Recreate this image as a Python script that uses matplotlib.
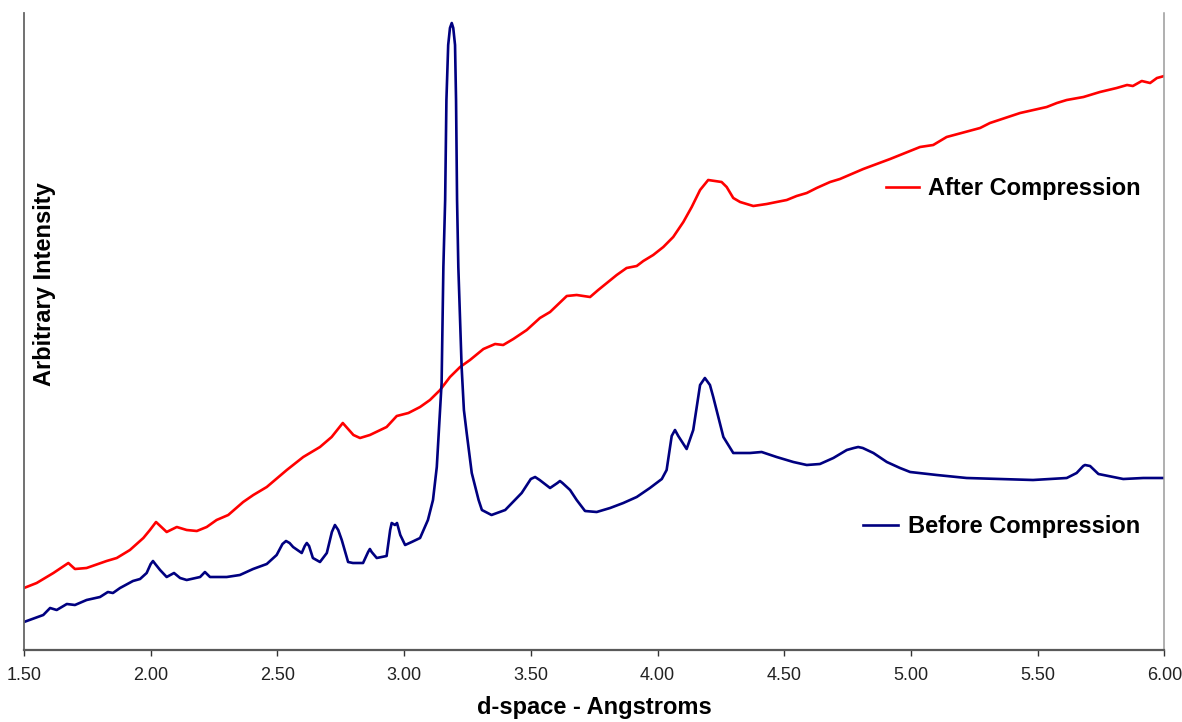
import matplotlib
matplotlib.use("Agg")
import matplotlib.pyplot as plt

plt.rcParams['font.family'] = ['Liberation Sans', 'DejaVu Sans']

# d-spacing (Angstroms) and arbitrary intensity, before compression
d_before = [1.500, 1.576, 1.603, 1.629, 1.669, 1.701, 1.747, 1.800, 1.831, 1.851,
            1.879, 1.930, 1.958, 1.984, 2.000, 2.009, 2.018, 2.037, 2.063, 2.092,
            2.116, 2.142, 2.195, 2.214, 2.234, 2.300, 2.352, 2.404, 2.458, 2.497,
            2.520, 2.534, 2.548, 2.562, 2.596, 2.608, 2.616, 2.625, 2.640, 2.668,
            2.695, 2.715, 2.727, 2.740, 2.754, 2.779, 2.798, 2.838, 2.858, 2.865,
            2.872, 2.892, 2.931, 2.945, 2.951, 2.964, 2.972, 2.985, 3.004, 3.030,
            3.063, 3.094, 3.114, 3.129, 3.148, 3.155, 3.162, 3.167, 3.174, 3.181,
            3.188, 3.194, 3.201, 3.205, 3.209, 3.214, 3.221, 3.227, 3.236, 3.247,
            3.267, 3.294, 3.307, 3.345, 3.399, 3.464, 3.500, 3.517, 3.535, 3.576,
            3.605, 3.615, 3.625, 3.655, 3.681, 3.714, 3.760, 3.813, 3.865, 3.918,
            3.970, 4.017, 4.036, 4.056, 4.069, 4.082, 4.115, 4.141, 4.168, 4.187,
            4.207, 4.220, 4.260, 4.299, 4.365, 4.411, 4.470, 4.536, 4.589, 4.641,
            4.694, 4.747, 4.775, 4.792, 4.810, 4.852, 4.905, 4.957, 4.997, 5.102,
            5.220, 5.352, 5.482, 5.615, 5.654, 5.680, 5.687, 5.707, 5.740, 5.838,
            5.917, 6.000]
i_before = [28, 35, 42, 40, 46, 45, 50, 53, 58, 57,
            62, 69, 71, 77, 86, 89, 86, 80, 73, 77,
            72, 70, 73, 78, 73, 73, 75, 81, 86, 95,
            106, 109, 107, 103, 97, 104, 107, 104, 92, 88,
            97, 118, 125, 120, 110, 88, 87, 87, 98, 101,
            98, 92, 94, 120, 127, 125, 127, 115, 105, 108,
            112, 130, 150, 183, 267, 383, 450, 550, 605, 622,
            627, 622, 605, 550, 450, 383, 330, 283, 240, 217,
            177, 150, 140, 135, 140, 157, 171, 173, 170, 162,
            167, 169, 167, 160, 150, 139, 138, 142, 147, 153,
            162, 171, 180, 214, 220, 214, 201, 220, 265, 272,
            265, 253, 213, 197, 197, 198, 193, 188, 185, 186,
            192, 200, 202, 203, 202, 197, 188, 182, 178, 175,
            172, 171, 170, 172, 177, 184, 185, 184, 176, 171,
            172, 172]

# d-spacing (Angstroms) and arbitrary intensity, after compression
d_after = [1.500, 1.550, 1.616, 1.675, 1.701, 1.747, 1.826, 1.866, 1.918, 1.971,
           1.997, 2.021, 2.063, 2.103, 2.142, 2.182, 2.221, 2.260, 2.306, 2.365,
           2.405, 2.458, 2.537, 2.602, 2.668, 2.714, 2.758, 2.800, 2.826, 2.865,
           2.931, 2.971, 3.017, 3.063, 3.102, 3.142, 3.181, 3.221, 3.260, 3.313,
           3.359, 3.391, 3.431, 3.484, 3.536, 3.576, 3.642, 3.681, 3.734, 3.766,
           3.839, 3.878, 3.918, 3.944, 3.983, 4.023, 4.062, 4.102, 4.135, 4.168,
           4.200, 4.253, 4.273, 4.299, 4.326, 4.378, 4.431, 4.470, 4.510, 4.549,
           4.589, 4.628, 4.681, 4.720, 4.812, 4.918, 5.036, 5.088, 5.141, 5.273,
           5.312, 5.431, 5.536, 5.576, 5.615, 5.681, 5.746, 5.812, 5.853, 5.876,
           5.911, 5.944, 5.971, 6.000]
i_after = [62, 67, 77, 87, 81, 82, 89, 92, 100, 112,
           120, 128, 118, 123, 120, 119, 123, 130, 135, 148,
           155, 163, 180, 193, 203, 213, 227, 215, 212, 215,
           223, 234, 237, 243, 250, 260, 273, 283, 290, 301,
           306, 305, 311, 320, 332, 338, 354, 355, 353, 360,
           375, 382, 384, 389, 395, 403, 413, 428, 443, 460,
           470, 468, 463, 452, 448, 444, 446, 448, 450, 454,
           457, 462, 468, 471, 481, 491, 503, 505, 513, 522,
           527, 537, 543, 547, 550, 553, 558, 562, 565, 564,
           569, 567, 572, 574]

x_ticks = [1.5, 2.0, 2.5, 3.0, 3.5, 4.0, 4.5, 5.0, 5.5, 6.0]
x_tick_labels = ["1.50", "2.00", "2.50", "3.00", "3.50", "4.00", "4.50", "5.00", "5.50", "6.00"]

fig = plt.figure(figsize=(11.82, 7.22), dpi=100)
ax = fig.add_axes([24 / 1182, 72 / 722, 1140.3 / 1182, 637 / 722])

after_line, = ax.plot(d_after, i_after, color='#ff0000', lw=1.9,
                      solid_joinstyle='round', label='After Compression')
before_line, = ax.plot(d_before, i_before, color='#000080', lw=1.9,
                       solid_joinstyle='round', label='Before Compression')

ax.set_xlim(1.5, 6.0)
ax.set_ylim(0, 637)
ax.set_xticks(x_ticks)
ax.set_xticklabels(x_tick_labels)
ax.set_yticks([])
ax.tick_params(axis='x', direction='out', length=4, width=1, color='#333333',
               labelsize=13, labelcolor='#222222', pad=8)

ax.spines['top'].set_visible(False)
ax.spines['bottom'].set_color('#595959')
ax.spines['bottom'].set_linewidth(1.6)
ax.spines['left'].set_color('#666666')
ax.spines['left'].set_linewidth(1.3)
ax.spines['right'].set_color('#9a9a9a')
ax.spines['right'].set_linewidth(1.1)

ax.set_xlabel('d-space - Angstroms', fontsize=17, fontweight='bold', labelpad=9)
ax.set_ylabel('Arbitrary Intensity', fontsize=17, fontweight='bold',
              va='center', ha='center')
ax.yaxis.set_label_coords(0.0184, 0.575)

leg_kw = dict(frameon=False, prop={'weight': 'bold', 'size': 17},
              borderpad=0, borderaxespad=0, handletextpad=0.4,
              loc='center left', bbox_transform=fig.transFigure)
leg1 = ax.legend(handles=[after_line], handlelength=1.4,
                 bbox_to_anchor=(886 / 1182, 1 - 189 / 722), **leg_kw)
ax.add_artist(leg1)
leg2 = ax.legend(handles=[before_line], handlelength=1.5,
                 bbox_to_anchor=(863 / 1182, 1 - 527 / 722), **leg_kw)

fig.savefig('out.png', dpi=100)
